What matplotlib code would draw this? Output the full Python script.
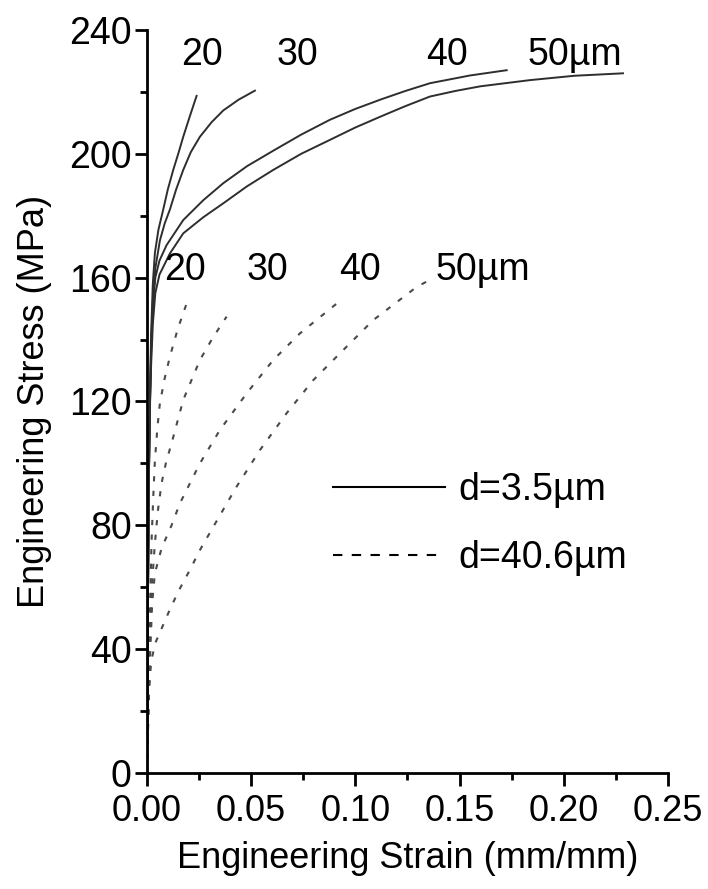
import matplotlib
matplotlib.use("Agg")
import matplotlib.pyplot as plt
from matplotlib.lines import Line2D

plt.rcParams['font.family'] = ['Liberation Sans', 'DejaVu Sans']

# fine grain, d=3.5um : specimen thickness 20, 30, 40, 50 um
fine_20_strain = [0, 0.0005, 0.001, 0.0015, 0.002, 0.0028, 0.0038, 0.0055, 0.0078, 0.010, 0.0126, 0.015, 0.0174, 0.0205, 0.0238]
fine_20_stress = [0, 60, 100, 125, 142, 158, 168, 175.5, 182, 188.5, 194.8, 200, 205.5, 212, 218.7]
fine_30_strain = [0, 0.0005, 0.001, 0.0015, 0.002, 0.0028, 0.004, 0.0062, 0.0085, 0.011, 0.014, 0.0174, 0.021, 0.0254, 0.031, 0.0366, 0.044, 0.0518]
fine_30_stress = [0, 60, 100, 122, 138, 152, 163, 172, 177.5, 182, 188.5, 194.8, 200.5, 205.5, 210.2, 214, 217.5, 220.4]
fine_40_strain = [0, 0.0005, 0.001, 0.0015, 0.002, 0.0028, 0.004, 0.006, 0.0094, 0.0174, 0.027, 0.0366, 0.048, 0.0606, 0.074, 0.0878, 0.10, 0.112, 0.124, 0.1358, 0.155, 0.1726]
fine_40_stress = [0, 60, 100, 122, 136, 150, 160, 165.5, 170.5, 178.6, 185, 190.5, 196, 201, 206.2, 211, 214.5, 217.5, 220.3, 222.8, 225.3, 227]
fine_50_strain = [0, 0.0005, 0.001, 0.0015, 0.002, 0.0028, 0.004, 0.006, 0.011, 0.0174, 0.027, 0.0366, 0.048, 0.0606, 0.074, 0.0878, 0.10, 0.112, 0.124, 0.1358, 0.148, 0.16, 0.1838, 0.205, 0.2284]
fine_50_stress = [0, 60, 100, 120, 132, 145, 155, 161, 167.8, 174.3, 179.5, 184, 189.5, 194.8, 200, 204.5, 208.5, 212, 215.4, 218.5, 220.3, 221.8, 223.8, 225.2, 226]

# coarse grain, d=40.6um
coarse_20_strain = [0, 0.0008, 0.0015, 0.0022, 0.003, 0.0038, 0.005, 0.0062, 0.0085, 0.011, 0.0148, 0.019]
coarse_20_stress = [0, 30, 55, 75, 89, 101, 111.5, 119.5, 127.5, 134.5, 143.5, 151.6]
coarse_30_strain = [0, 0.0008, 0.0015, 0.0025, 0.0038, 0.0052, 0.007, 0.0092, 0.0118, 0.0174, 0.0254, 0.0315, 0.0382]
coarse_30_stress = [0, 25, 45, 62, 74.2, 84.5, 93.6, 100.5, 106.5, 120.5, 133.4, 140.5, 147.4]
coarse_40_strain = [0, 0.0008, 0.0015, 0.0025, 0.0038, 0.007, 0.0118, 0.0158, 0.0254, 0.035, 0.0478, 0.0606, 0.0734, 0.091]
coarse_40_stress = [0, 22, 38, 55, 64.5, 72.6, 80, 87.1, 100, 110.8, 122.6, 133.4, 142, 151.6]
coarse_50_strain = [0, 0.0008, 0.002, 0.004, 0.0102, 0.015, 0.0206, 0.0254, 0.0318, 0.043, 0.0542, 0.067, 0.0798, 0.0958, 0.1086, 0.1294, 0.135]
coarse_50_stress = [0, 25, 36, 42, 51.6, 58.6, 65.6, 72, 79.5, 92.5, 104.3, 116.2, 126.9, 137.7, 146.3, 157, 159]

fine_labels = ["20", "30", "40", "50\u00b5m"]
fine_label_x = [0.0264, 0.072, 0.144, 0.2054]
fine_label_y = 232
coarse_labels = ["20", "30", "40", "50\u00b5m"]
coarse_label_x = [0.0182, 0.058, 0.1022, 0.161]
coarse_label_y = 162.5

fig = plt.figure(figsize=(7.08, 8.89), dpi=100)
ax = fig.add_axes([0.2076, 0.1305, 0.7359, 0.8358])

solid_c = '#2e2e2e'
dash_c = '#4a4a4a'
for xs, ys in [(fine_20_strain, fine_20_stress), (fine_30_strain, fine_30_stress),
               (fine_40_strain, fine_40_stress), (fine_50_strain, fine_50_stress)]:
    ax.plot(xs, ys, '-', color=solid_c, lw=1.4)
for xs, ys in [(coarse_20_strain, coarse_20_stress), (coarse_30_strain, coarse_30_stress),
               (coarse_40_strain, coarse_40_stress), (coarse_50_strain, coarse_50_stress)]:
    ax.plot(xs, ys, color=dash_c, lw=1.5, dashes=(2.5, 4.5))

fs = 27
for t, x in zip(fine_labels, fine_label_x):
    ax.text(x, fine_label_y, t, ha='center', va='center', fontsize=fs)
for t, x in zip(coarse_labels, coarse_label_x):
    ax.text(x, coarse_label_y, t, ha='center', va='center', fontsize=fs)

handles = [Line2D([], [], color='black', lw=1.5, ls='-'),
           Line2D([], [], color='black', lw=1.5, dashes=(4.5, 4.5))]
ax.legend(handles, ["d=3.5\u00b5m", "d=40.6\u00b5m"], loc='upper left',
          bbox_to_anchor=(0.357, 0.405), frameon=False, fontsize=fs,
          handlelength=3.0, handletextpad=0.35, labelspacing=0.85,
          borderpad=0, borderaxespad=0)

ax.set_xlim(0, 0.25)
ax.set_ylim(0, 240)
ax.set_xticks([0, 0.05, 0.10, 0.15, 0.20, 0.25])
ax.set_xticklabels(["0.00", "0.05", "0.10", "0.15", "0.20", "0.25"])
ax.set_xticks([0.025, 0.075, 0.125, 0.175, 0.225], minor=True)
ax.set_yticks([0, 40, 80, 120, 160, 200, 240])
ax.set_yticks([20, 60, 100, 140, 180, 220], minor=True)
ax.spines['top'].set_visible(False)
ax.spines['right'].set_visible(False)
for s in ['left', 'bottom']:
    ax.spines[s].set_linewidth(2.0)
ax.tick_params(which='major', direction='out', length=9, width=2.0, labelsize=fs, pad=2)
ax.tick_params(axis='x', which='major', labelsize=26, pad=6)
ax.tick_params(which='minor', direction='out', length=5, width=2.0)
ax.set_xlabel("Engineering Strain (mm/mm)", fontsize=26, labelpad=9)
ax.set_ylabel("Engineering Stress (MPa)", fontsize=26, labelpad=12)

fig.savefig("out.png", dpi=100)
